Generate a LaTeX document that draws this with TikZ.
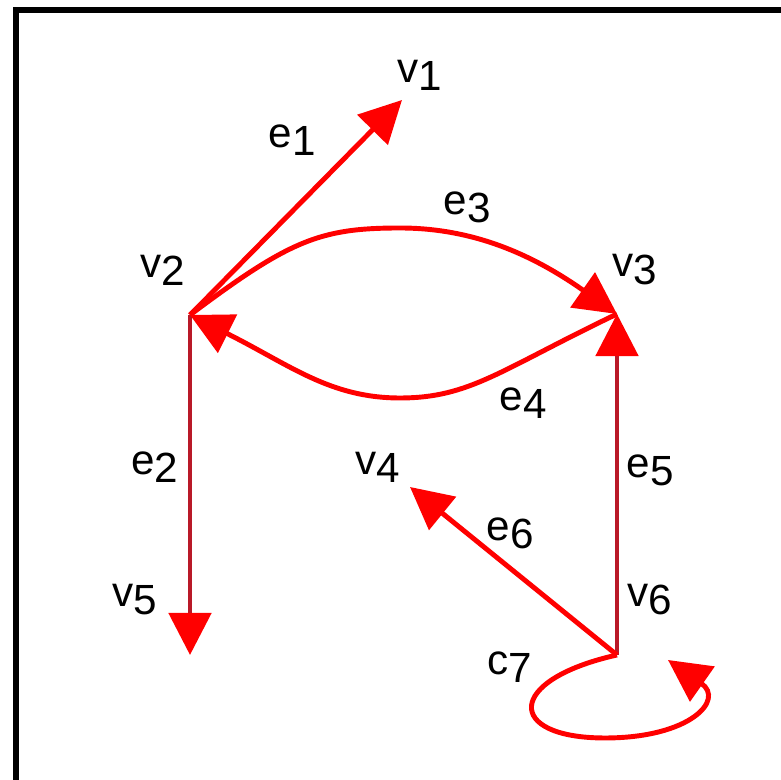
\documentclass[tikz,border=0pt]{standalone}
\usepackage{fontspec}
\setmainfont{Liberation Sans}
\usetikzlibrary{arrows.meta}
\definecolor{rougesombre}{RGB}{185,25,40}
\newcommand{\etiq}[2]{#1\raisebox{-2.3pt}{#2}}
\tikzset{
  arete/.style={draw=red, line width=1.4pt, -{Triangle[length=4.2mm,width=4.2mm]}},
  aretesombre/.style={arete, draw=rougesombre, -{Triangle[length=4.2mm,width=4.2mm,color=red]}},
  lab/.style={inner sep=0pt, font=\fontsize{12}{12}\selectfont}
}

\begin{document}
\begin{tikzpicture}[x=0.01cm, y=-0.01cm]
    \useasboundingbox (0,0) rectangle (781,780);
    % Cadre
    \draw[line width=1.7pt] (16,780) -- (16,10) -- (781,10);

    % Sommets
    \coordinate (v1) at (402,100);
    \coordinate (v2) at (190,315);
    \coordinate (v3) at (617,314);
    \coordinate (v4) at (410,487);
    \coordinate (v5) at (190,655);
    \coordinate (v6) at (617,655);
    \coordinate (t7) at (668,660);

    % Aretes
    \draw[arete] (v2) -- (v1);
    \draw[aretesombre] (v2) -- (v5);
    \draw[arete] (v2) .. controls (290,240) and (320,228) .. (400,228)
                      .. controls (480,228) and (540,260) .. (v3);
    \draw[arete] (v3) .. controls (500,370) and (470,398) .. (400,398)
                      .. controls (330,398) and (290,365) .. (v2);
    \draw[aretesombre] (v6) -- (v3);
    \draw[arete] (v6) -- (v4);
    \draw[arete] (v6) .. controls (505,680) and (505,738) .. (605,738)
                      .. controls (690,738) and (725,700) .. (t7);

    % Etiquettes
    \node[lab] (lv1) at (420,75) {\etiq{v}{1}};
    \node[lab] (lv2) at (163,270) {\etiq{v}{2}};
    \node[lab] (lv3) at (635,270) {\etiq{v}{3}};
    \node[lab] (lv4) at (378,467) {\etiq{v}{4}};
    \node[lab] (lv5) at (135,600) {\etiq{v}{5}};
    \node[lab] (lv6) at (650,600) {\etiq{v}{6}};
    \node[lab] (le1) at (292,140) {\etiq{e}{1}};
    \node[lab] (le2) at (155,467) {\etiq{e}{2}};
    \node[lab] (le3) at (467,207) {\etiq{e}{3}};
    \node[lab] (le4) at (523,403) {\etiq{e}{4}};
    \node[lab] (le5) at (650,470) {\etiq{e}{5}};
    \node[lab] (le6) at (510,533) {\etiq{e}{6}};
    \node[lab] (le7) at (510,667) {\etiq{c}{7}};
\end{tikzpicture}
\end{document}
